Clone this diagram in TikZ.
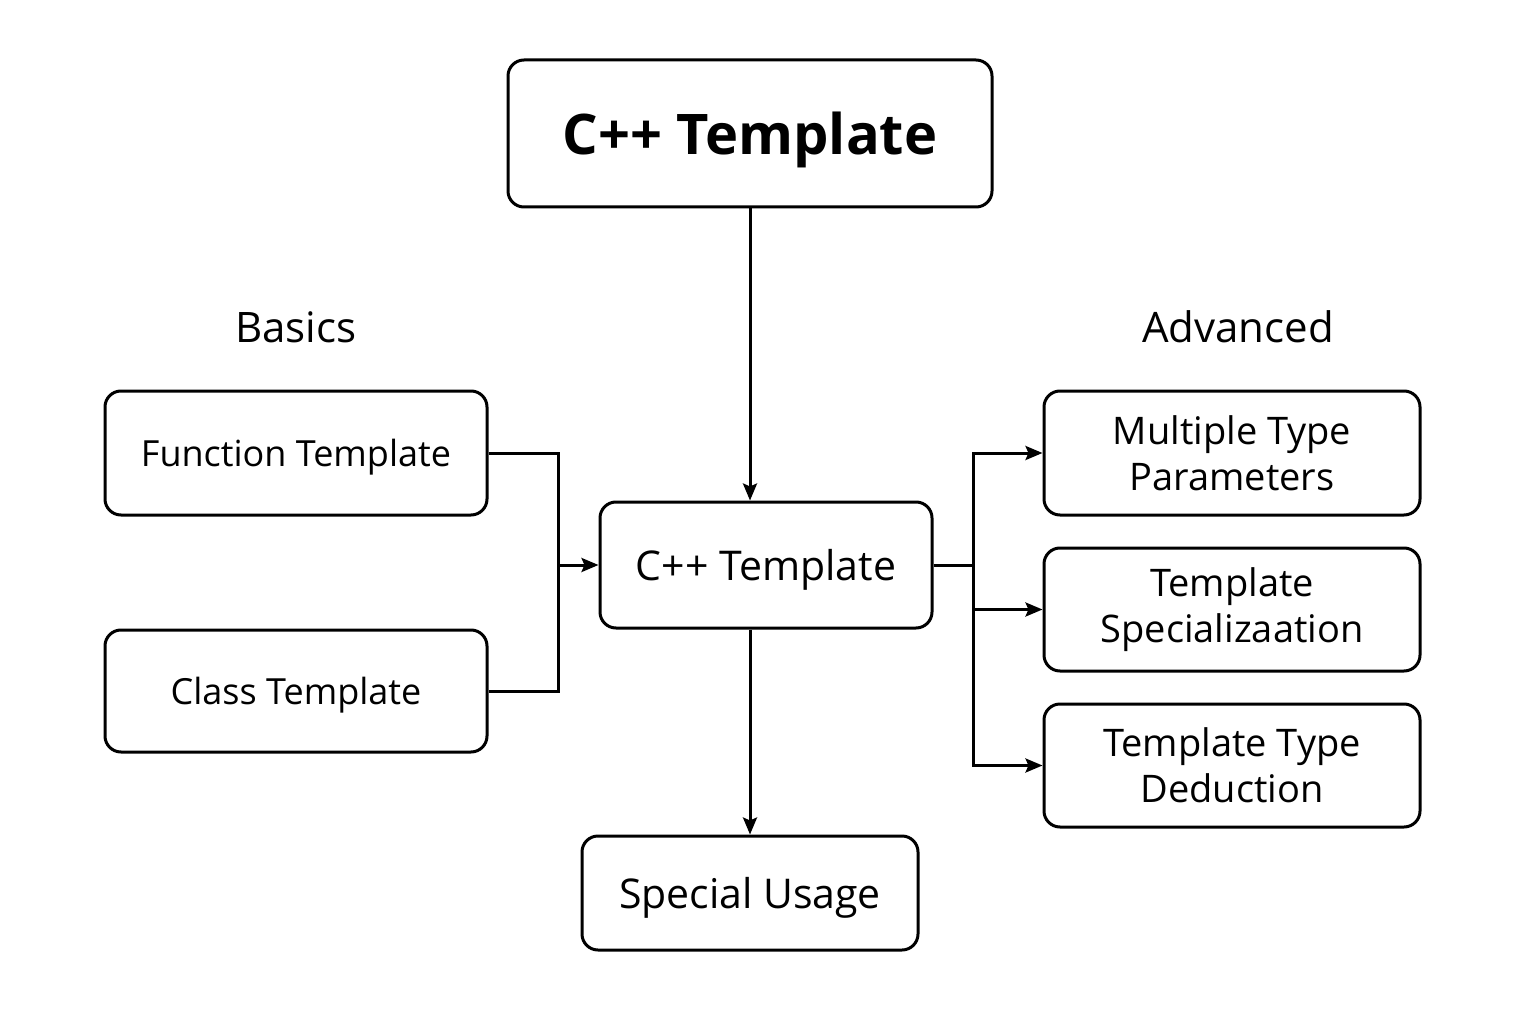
\documentclass[tikz,border=0pt]{standalone}
\usepackage{fontspec}
\setmainfont{Open Sans}
\usetikzlibrary{arrows.meta,positioning}
\begin{document}
\begin{tikzpicture}[x=1pt,y=-1pt,
  box/.style={draw,line width=3pt,rounded corners=16pt,align=center,inner sep=0pt},
  one/.style={text depth=0pt},
  conn/.style={line width=3pt},
  arr/.style={conn,-{Stealth[length=17pt,width=14pt,inset=3pt]}},
  ltxt/.style={font=\fontsize{36}{46}\selectfont},
  rtxt/.style={font=\fontsize{38}{46}\selectfont},
  lbl/.style={font=\fontsize{42}{48}\selectfont}]
\useasboundingbox[fill=white] (0,0) rectangle (1536,1024);
\node[box,one,minimum width=484pt,minimum height=147pt,font=\fontsize{56}{66}\selectfont\bfseries] (top) at (750,133.5) {C++ Template};
\node[box,one,minimum width=332pt,minimum height=126pt,font=\fontsize{41}{48}\selectfont] (main) at (766,565) {C++ Template};
\node[box,one,minimum width=382pt,minimum height=124pt,ltxt] (ft) at (296,453) {Function Template};
\node[box,one,minimum width=382pt,minimum height=122pt,ltxt] (ct) at (296,691) {Class Template};
\node[box,minimum width=376pt,minimum height=124pt,rtxt] (mtp) at (1232,453) {Multiple Type\\Parameters};
\node[box,minimum width=376pt,minimum height=123pt,rtxt] (ts) at (1232,609.5) {Template\\Specializaation};
\node[box,minimum width=376pt,minimum height=123pt,rtxt] (ttd) at (1232,765.5) {Template Type\\Deduction};
\node[box,one,minimum width=336pt,minimum height=114pt,font=\fontsize{41}{48}\selectfont] (su) at (750,893) {Special Usage};
\node[lbl,one] (basics) at (296,327) {Basics};
\node[lbl,one] (adv) at (1238,327) {Advanced};
\coordinate (lbus) at (558,565);
\coordinate (rbus) at (973,565);
\draw[arr] (top.south) -- (top.south |- main.north);
\draw[arr] (main.south -| su.north) -- (su.north);
\draw[conn] (ft.east) -| (lbus) |- (ct.east);
\draw[arr] (lbus) -- (main.west);
\draw[conn] (main.east) -- (rbus);
\draw[arr] (rbus) |- (mtp.west);
\draw[arr] (rbus) |- (ts.west);
\draw[arr] (rbus) |- (ttd.west);
\end{tikzpicture}
\end{document}
